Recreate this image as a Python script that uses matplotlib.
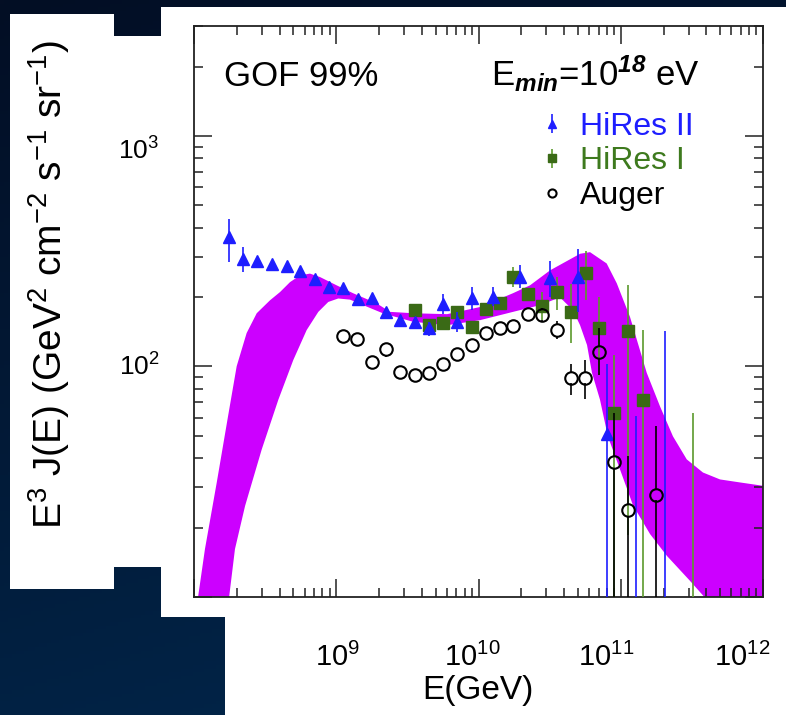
import numpy as np
import matplotlib
matplotlib.use('Agg')
import matplotlib.pyplot as plt
from matplotlib.patches import Rectangle
from matplotlib.ticker import LogLocator, NullFormatter
from matplotlib.legend_handler import HandlerErrorbar

plt.rcParams['font.family'] = ['Liberation Sans', 'DejaVu Sans']
plt.rcParams['mathtext.fontset'] = 'custom'
plt.rcParams['mathtext.rm'] = 'Liberation Sans'
plt.rcParams['mathtext.it'] = 'Liberation Sans:italic'
plt.rcParams['mathtext.sf'] = 'Liberation Sans:bold:italic'

# HiRes II (energy in GeV, E^3 J(E), error-bar low / high)
hr2_E = [1.77e8, 2.22e8, 2.79e8, 3.56e8, 4.47e8, 5.6e8, 7.11e8, 8.91e8, 1.12e9,
         1.42e9, 1.79e9, 2.24e9, 2.81e9, 3.56e9, 4.52e9, 5.6e9, 7.01e9, 8.96e9,
         1.27e10, 1.97e10, 3.19e10, 5.01e10, 8.03e10, 1.28e11, 2.05e11]
hr2_J = [364, 293, 287, 278, 273, 260, 239, 221, 218, 196, 198, 173, 159, 156,
         147, 186, 156, 198, 201, 245, 241, 245, 51.2, 5, 5]
hr2_lo = [285, 257, 280, 272, 268, 255, 234, 216, 213, 192, 194, 169, 155, 152,
          136, 169, 141, 176, 183, 218, 201, 172, 1, 1, 1]
hr2_hi = [437, 330, 295, 284, 279, 266, 244, 226, 223, 200, 202, 177, 163, 160,
          156, 206, 172, 222, 222, 276, 287, 323, 103, 60.7, 143]

# HiRes I
hr1_E = [3.56e9, 4.52e9, 5.6e9, 7.01e9, 8.96e9, 1.12e10, 1.41e10, 1.76e10,
         2.24e10, 2.81e10, 3.56e10, 4.5e10, 5.71e10, 7.06e10, 8.96e10, 1.12e11,
         1.43e11, 3.21e11]
hr1_J = [176, 152, 154, 172, 149, 178, 188, 245, 206, 183, 210, 173, 255, 147,
         63, 143, 71.8, 5]
hr1_lo = [171, 148, 150, 167, 145, 173, 183, 222, 200, 159, 176, 126, 194, 91.6,
          1, 18.6, 1, 1]
hr1_hi = [181, 156, 158, 177, 153, 183, 193, 270, 212, 210, 245, 227, 317, 201,
          112, 225, 144, 63]

# Auger
aug_E = [1.12e9, 1.4e9, 1.79e9, 2.24e9, 2.81e9, 3.56e9, 4.47e9, 5.6e9, 7.01e9,
         8.96e9, 1.12e10, 1.41e10, 1.76e10, 2.24e10, 2.81e10, 3.56e10, 4.5e10,
         5.64e10, 7.06e10, 8.96e10, 1.12e11, 1.76e11]
aug_J = [136, 131, 105, 118.5, 94.6, 91.7, 93.5, 102.4, 113, 124, 140, 147, 150,
         169, 167.5, 144, 89.2, 89.2, 115, 38.5, 23.8, 27.8]
aug_lo = [132, 127, 100, 110, 92, 89, 91, 99, 110, 121, 136, 143, 146, 165, 156,
          131, 75.3, 72.4, 91.6, 1, 1, 1]
aug_hi = [140, 135, 109, 127, 97, 94, 96, 105, 116, 127, 144, 151, 154, 173, 180,
          157, 103, 107, 147, 63, 40.9, 55]

# model band (log10 E, log10 E^3 J), upper and lower edges
band_hi_logE = [8.017, 8.077, 8.160, 8.239, 8.300, 8.370, 8.441, 8.534, 8.605,
                8.675, 8.745, 8.815, 8.886, 9.003, 9.118, 9.284, 9.378, 9.540,
                9.779, 10.011, 10.243, 10.362, 10.503, 10.714, 10.784, 10.901,
                10.972, 11.065, 11.183, 11.276, 11.367, 11.464, 11.578, 11.698,
                11.838, 12.05]
band_hi_logJ = [0.95, 1.208, 1.497, 1.783, 2.001, 2.145, 2.231, 2.287, 2.323,
                2.366, 2.395, 2.403, 2.388, 2.352, 2.318, 2.274, 2.237, 2.231,
                2.227, 2.258, 2.318, 2.352, 2.417, 2.489, 2.496, 2.447, 2.361,
                2.215, 1.972, 1.827, 1.697, 1.597, 1.540, 1.510, 1.497, 1.478]
band_lo_logE = [8.237, 8.288, 8.359, 8.476, 8.593, 8.698, 8.792, 8.874, 8.944,
                9.014, 9.097, 9.190, 9.331, 9.540, 9.779, 10.011, 10.243, 10.432,
                10.573, 10.664, 10.714, 10.763, 10.798, 10.854, 10.910, 10.995,
                11.086, 11.206, 11.325, 11.487, 11.66, 12.05]
band_lo_logJ = [0.95, 1.208, 1.395, 1.640, 1.856, 2.028, 2.158, 2.237, 2.280,
                2.295, 2.290, 2.266, 2.230, 2.194, 2.179, 2.201, 2.237, 2.266,
                2.300, 2.244, 2.179, 2.093, 1.972, 1.856, 1.696, 1.553, 1.398,
                1.273, 1.178, 1.070, 0.95, 0.95]

x_ticklabels = [r'$10^{9}$', r'$10^{10}$', r'$10^{11}$', r'$10^{12}$']
y_ticklabels = [r'$10^{3}$', r'$10^{2}$']

W, H = 786, 715
fig = plt.figure(figsize=(W / 100, H / 100), dpi=100)


def px_rect(x0, y0, x1, y1, **kw):
    # rectangle in pixel coords, y measured from top
    return Rectangle((x0 / W, 1 - y1 / H), (x1 - x0) / W, (y1 - y0) / H,
                     transform=fig.transFigure, **kw)


# slide background
bg = fig.add_axes([0, 0, 1, 1], zorder=-10)
gy, gx = np.mgrid[0:1:200j, 0:1:200j]
c_top = np.array([3, 14, 36]) / 255
c_bot = np.array([1, 40, 78]) / 255
t = np.clip(0.75 * gy + 0.25 * gx, 0, 1)[..., None]
img = c_top * (1 - t) + c_bot * t
bg.imshow(img, aspect='auto', extent=[0, 1, 1, 0])
bg.set_axis_off()

# white panels of the slide
for r in [(10, 14, 114, 589), (113, 36, 162, 567), (161, 7, 786, 617), (225, 616, 786, 715)]:
    fig.add_artist(px_rect(*r, facecolor='white', edgecolor='none', zorder=-5))

ax = fig.add_axes([194 / W, 1 - 597 / H, 569 / W, 571 / H])
ax.set_xscale('log')
ax.set_yscale('log')
ax.set_xlim(1e8, 1e12)
ax.set_ylim(10, 3000)

# model band
bx = np.power(10.0, band_hi_logE + band_lo_logE[::-1])
by = np.power(10.0, band_hi_logJ + band_lo_logJ[::-1])
ax.fill(bx, by, color='#cc00ff', lw=0, zorder=1)


def yerr(J, lo, hi):
    J = np.array(J)
    return [J - np.array(lo), np.array(hi) - J]


blue = '#1e1eff'
green = '#3a6a16'
h2 = ax.errorbar(hr2_E, hr2_J, yerr=yerr(hr2_J, hr2_lo, hr2_hi), fmt='^', color=blue,
                 ms=9, elinewidth=1.2, capsize=0, zorder=4, label='HiRes II')
h1 = ax.errorbar(hr1_E, hr1_J, yerr=yerr(hr1_J, hr1_lo, hr1_hi), fmt='s', color=green,
                 ecolor='#5b9a2c', ms=9, elinewidth=1.2, capsize=0, zorder=3, label='HiRes I')

# Auger: open circles, error bar stops at the circle edge (ROOT style)
r_dec = 0.024  # circle radius in decades
aJ = np.array(aug_J)
lo_top = aJ * 10 ** -r_dec
hi_bot = aJ * 10 ** r_dec
alo, ahi = np.array(aug_lo), np.array(aug_hi)
m = alo < lo_top
ax.vlines(np.array(aug_E)[m], alo[m], lo_top[m], color='black', lw=1.2, zorder=5)
m = ahi > hi_bot
ax.vlines(np.array(aug_E)[m], hi_bot[m], ahi[m], color='black', lw=1.2, zorder=5)
ha, = ax.plot(aug_E, aug_J, 'o', color='black', mfc='none', mew=1.5, ms=9, zorder=5,
              label='Auger')

# ROOT-like ticks
for axis in [ax.xaxis, ax.yaxis]:
    axis.set_major_locator(LogLocator(base=10, numticks=20))
    axis.set_minor_locator(LogLocator(base=10, subs=np.arange(2, 10), numticks=20))
    axis.set_minor_formatter(NullFormatter())
ax.tick_params(which='both', direction='in', top=True, right=True,
               labelbottom=False, labelleft=False, width=1.1, color='#222222')
ax.tick_params(which='major', length=13)
ax.tick_params(which='minor', length=6.5)
for s in ax.spines.values():
    s.set_linewidth(1.3)
    s.set_color('#222222')

ax.text(0.053, 0.895, 'GOF 99%', transform=ax.transAxes, fontsize=25, va='baseline')
ax.text(0.889, 0.895, r'E$_{\mathsf{min}}$=10$^{\mathsf{18}}$ eV', transform=ax.transAxes,
        fontsize=25, va='baseline', ha='right')

leg = ax.legend(handles=[h2, h1, ha], loc='upper left', bbox_to_anchor=(0.592, 0.872),
                frameon=False, fontsize=23, markerscale=0.65, handlelength=0.5,
                handletextpad=0.65, labelspacing=0.14, borderaxespad=0,
                handler_map={type(h2): HandlerErrorbar(xerr_size=0.3, yerr_size=0.3)},
                labelcolor=[blue, '#3e7a1e', 'black'])

# axis tick labels and titles (placed like the slide)
for lab, xp in zip(x_ticklabels, [338, 472, 606, 742]):
    fig.text(xp / W, 1 - 666 / H, lab, fontsize=21, ha='center', va='baseline')
for lab, yp in zip(y_ticklabels, [160, 376]):
    fig.text(139 / W, 1 - yp / H, lab, fontsize=19, ha='center', va='baseline')
fig.text(478 / W, 1 - 690 / H, 'E(GeV)', fontsize=24, ha='center', va='center')
fig.text(49 / W, 1 - 285 / H, r'E$^{3}$ J(E) (GeV$^{2}$ cm$^{-2}$ s$^{-1}$ sr$^{-1}$)',
         fontsize=28, rotation=90, ha='center', va='center')

fig.savefig('out.png', dpi=100)
